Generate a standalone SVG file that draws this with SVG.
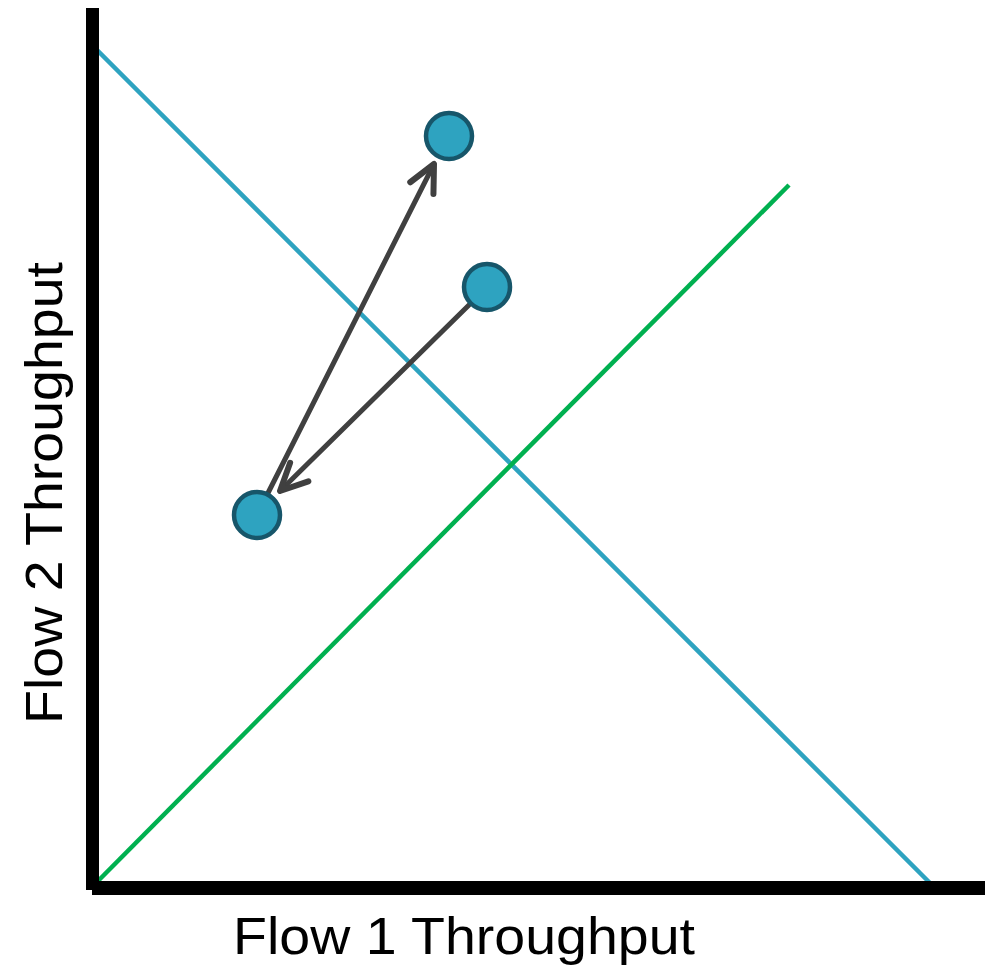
<svg xmlns="http://www.w3.org/2000/svg" width="988" height="966" viewBox="0 0 988 966">
<style>
.axis{fill:#000}
.lbl{font-family:"Liberation Sans",Arial,sans-serif;font-size:52px;fill:#000}
.pt{fill:#2ea3c0;stroke:#17566a;stroke-width:4.5}
.arr{stroke:#404040;stroke-width:5;stroke-linecap:round;fill:none}
</style>
<defs>
<marker id="ah" markerUnits="userSpaceOnUse" markerWidth="40" markerHeight="40" viewBox="-32 -20 40 40" refX="0" refY="0" orient="auto">
<path d="M -27,-13 L 0,0 L -27,13" fill="none" stroke="#404040" stroke-width="6" stroke-linecap="round" stroke-linejoin="round"/>
</marker>
</defs>
<rect width="988" height="966" fill="#fff"/>
<g id="lines">
<line x1="92" y1="45" x2="930" y2="883" stroke="#2ea3c0" stroke-width="4.5"/>
<line x1="97" y1="882" x2="789" y2="185" stroke="#00b050" stroke-width="4.5"/>
</g>
<g id="axes">
<rect class="axis" x="86" y="8" width="13" height="882"/>
<rect class="axis" x="92" y="881" width="893" height="14"/>
</g>
<g id="connectors">
<line class="arr" x1="268" y1="493" x2="434" y2="164" marker-end="url(#ah)"/>
<line class="arr" x1="469" y1="305" x2="280" y2="491" marker-end="url(#ah)"/>
</g>
<g id="p1"><circle class="pt" cx="449" cy="136" r="23"/></g>
<g id="p2"><circle class="pt" cx="487" cy="287" r="23"/></g>
<g id="p3"><circle class="pt" cx="257" cy="515" r="23"/></g>
<g id="xlabel"><text class="lbl" x="233" y="954" textLength="462" lengthAdjust="spacingAndGlyphs">Flow 1 Throughput</text></g>
<g id="ylabel"><text class="lbl" transform="translate(62,724) rotate(-90)" x="0" y="0" textLength="462" lengthAdjust="spacingAndGlyphs">Flow 2 Throughput</text></g>
</svg>
